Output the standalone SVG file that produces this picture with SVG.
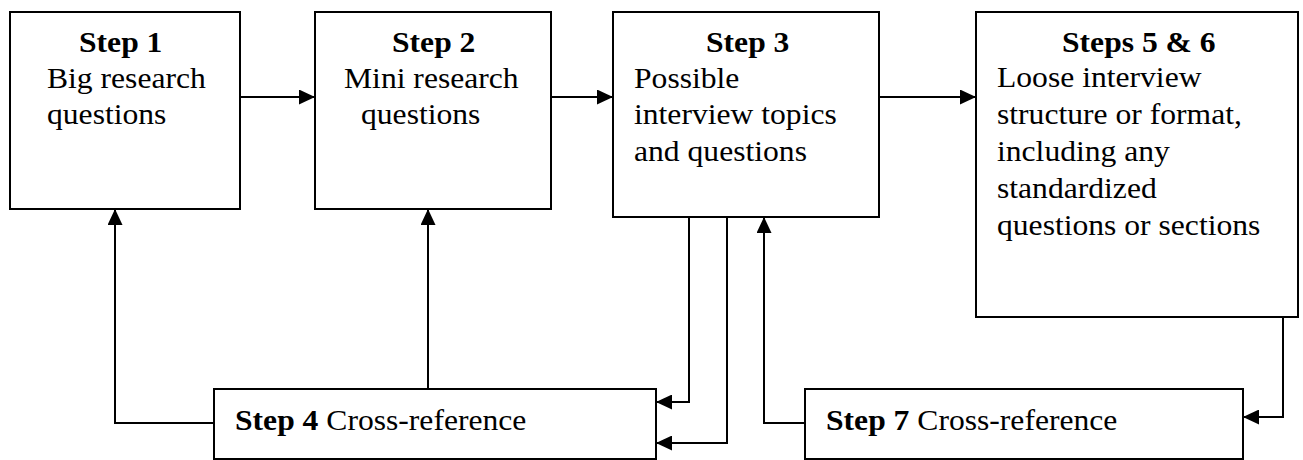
<svg xmlns="http://www.w3.org/2000/svg" width="1303" height="460" viewBox="0 0 1303 460">
<style>
.box{fill:#fff;stroke:#000;stroke-width:2}
.c{fill:none;stroke:#000;stroke-width:2}
text{font-family:"Liberation Serif","Times New Roman",serif;font-size:29px;fill:#000}
.b{font-weight:bold}
</style>
<defs>
<marker id="ah" markerUnits="userSpaceOnUse" markerWidth="16" markerHeight="15" refX="16" refY="7.5" orient="auto">
<path d="M0,0 L16,7.5 L0,15 z" fill="#000"/>
</marker>
</defs>
<rect width="1303" height="460" fill="#fff"/>
<g id="connectors">
<path class="c" d="M240,97 H315" marker-end="url(#ah)"/>
<path class="c" d="M551,97 H613" marker-end="url(#ah)"/>
<path class="c" d="M879,97 H976" marker-end="url(#ah)"/>
<path class="c" d="M214,423 H115 V209" marker-end="url(#ah)"/>
<path class="c" d="M428,389 V209" marker-end="url(#ah)"/>
<path class="c" d="M689,217 V402 H656" marker-end="url(#ah)"/>
<path class="c" d="M727,217 V443 H656" marker-end="url(#ah)"/>
<path class="c" d="M805,423 H764 V217" marker-end="url(#ah)"/>
<path class="c" d="M1283,317 V417 H1243" marker-end="url(#ah)"/>
</g>
<g id="step1">
<rect class="box" x="10" y="12" width="230" height="197"/>
<text class="b" transform="translate(79,52) scale(1.09,1)">Step 1</text>
<text transform="translate(47,88) scale(1.09,1)">Big research</text>
<text transform="translate(47,124) scale(1.09,1)">questions</text>
</g>
<g id="step2">
<rect class="box" x="315" y="12" width="236" height="197"/>
<text class="b" transform="translate(392,52) scale(1.09,1)">Step 2</text>
<text transform="translate(344,88) scale(1.09,1)">Mini research</text>
<text transform="translate(361,124) scale(1.09,1)">questions</text>
</g>
<g id="step3">
<rect class="box" x="613" y="12" width="266" height="205"/>
<text class="b" transform="translate(706,52) scale(1.09,1)">Step 3</text>
<text transform="translate(634,88) scale(1.09,1)">Possible</text>
<text transform="translate(634,124) scale(1.09,1)">interview topics</text>
<text transform="translate(634,161) scale(1.09,1)">and questions</text>
</g>
<g id="steps56">
<rect class="box" x="976" y="12" width="322" height="305"/>
<text class="b" transform="translate(1062,52) scale(1.09,1)">Steps 5 &amp; 6</text>
<text transform="translate(997,87) scale(1.09,1)">Loose interview</text>
<text transform="translate(997,124) scale(1.09,1)">structure or format,</text>
<text transform="translate(997,161) scale(1.09,1)">including any</text>
<text transform="translate(997,198) scale(1.09,1)">standardized</text>
<text transform="translate(997,235) scale(1.09,1)">questions or sections</text>
</g>
<g id="step4">
<rect class="box" x="214" y="389" width="442" height="70"/>
<text transform="translate(235,430) scale(1.09,1)"><tspan class="b">Step 4</tspan> Cross-reference</text>
</g>
<g id="step7">
<rect class="box" x="805" y="389" width="438" height="70"/>
<text transform="translate(826,430) scale(1.09,1)"><tspan class="b">Step 7</tspan> Cross-reference</text>
</g>
</svg>
